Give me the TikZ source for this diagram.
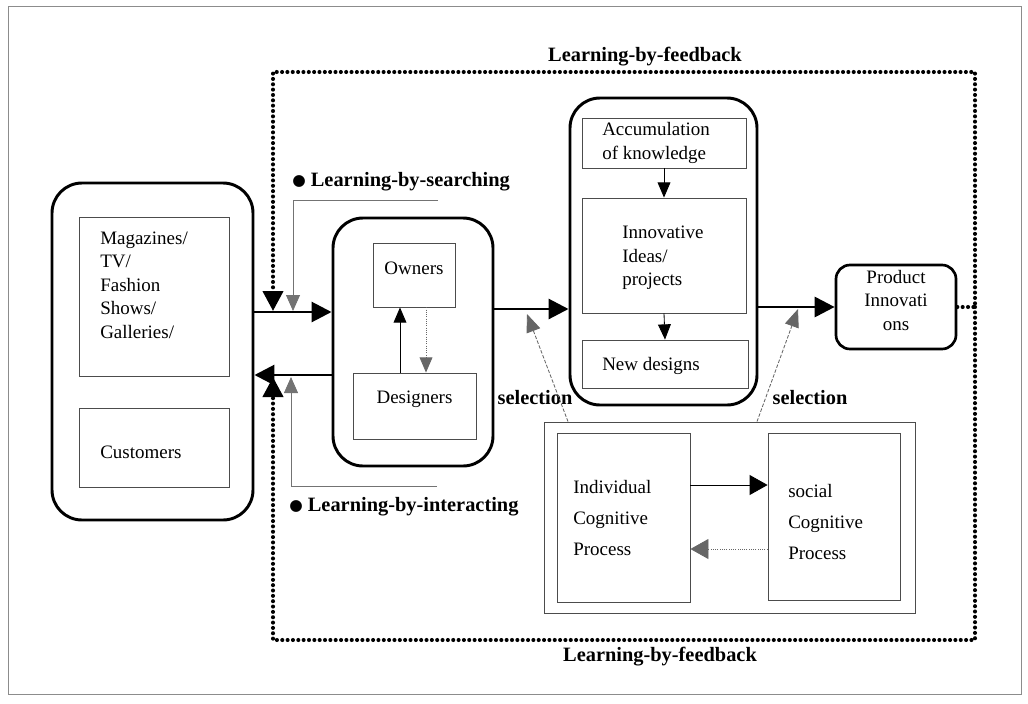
\documentclass[tikz,border=0pt]{standalone}
\usepackage{fontspec}
\setmainfont{Liberation Serif}
\newfontfamily\symfont{DejaVu Sans}
\usetikzlibrary{arrows.meta,fit}
\begin{document}
\begin{tikzpicture}[x=0.25mm,y=-0.25mm]
		\tikzstyle roundbox=[draw,line width=2.1pt,rounded corners=7.5mm,inner sep=0pt];
		\tikzstyle roundsmall=[draw,line width=1.9pt,rounded corners=3.5mm,inner sep=0pt];
		\tikzstyle thinbox=[draw=black!70,line width=0.6pt,inner sep=0pt];
		\tikzstyle txt=[font=\fontsize{13.5}{16.7}\selectfont,align=left,anchor=west,inner sep=0pt];
		\tikzstyle lbl=[font=\fontsize{14.5}{17}\selectfont\bfseries,inner sep=0pt];
		\tikzstyle bigarrow=[line width=2.1pt,-{Triangle[length=5mm,width=5mm]}];
		\tikzstyle thinarrow=[line width=0.6pt,-{Triangle[length=3.8mm,width=3.2mm]}];
		\tikzstyle dotarrow=[black!60,line width=0.6pt,densely dotted,-{Triangle[length=3.8mm,width=3.2mm]}];
		\tikzstyle greyarrow=[black!55,line width=0.6pt,-{Triangle[length=4mm,width=3.5mm]}];
		\tikzstyle selline=[black!60,line width=0.6pt,dash pattern=on 2.5pt off 1.2pt,-{Triangle[length=4.5mm,width=3.6mm]}];
		\tikzstyle feedback=[line width=2.9pt,line cap=round,dash pattern=on 0pt off 3.8pt,-{Triangle[length=5mm,width=5mm]}];
		\useasboundingbox (0,0) rectangle (1028,703);
		% FRAME
		\draw[black!45,line width=0.5pt] (8,6) rectangle (1021,694);

		% SOURCES
		\node[roundbox,fit={(52,183) (253,520)}] (sources) {};
		\node[thinbox,fit={(79,217) (229,376)}] (media) {};
		\node[txt] (mediatxt) at (100,285) {Magazines/\\TV/\\Fashion\\Shows/\\Galleries/};
		\node[thinbox,fit={(79,408) (229,487)}] (customers) {};
		\node[txt] (customerstxt) at (100,452) {Customers};

		% OWNERS AND DESIGNERS
		\node[roundbox,fit={(333,218) (493,466)}] (team) {};
		\node[thinbox,fit={(373,243) (455,307)},font=\fontsize{13.5}{16.7}\selectfont] (owners) {Owners};
		\node[thinbox,fit={(353,373) (476,439)},font=\fontsize{13.5}{16.7}\selectfont] (designers) {Designers};
		\draw[thinarrow] (designers.north -| 400,0) -- (owners.south -| 400,0);
		\draw[dotarrow] (owners.south -| 426,0) -- (designers.north -| 426,0);

		% INNOVATION
		\node[roundbox,fit={(570,98) (757,405)}] (innov) {};
		\node[thinbox,fit={(582,118) (746,168)}] (accum) {};
		\node[txt] (accumtxt) at (602,143) {Accumulation\\of knowledge};
		\node[thinbox,fit={(582,198) (746,313)}] (ideas) {};
		\node[txt] (ideastxt) at (622,258) {Innovative\\Ideas/\\projects};
		\node[thinbox,fit={(582,340) (748,388)}] (newdes) {};
		\node[txt] (newdestxt) at (602,366) {New designs};
		\draw[thinarrow] (accum.south) -- (ideas.north);
		\draw[thinarrow] (ideas.south) -- (newdes.north);

		% PRODUCT
		\node[roundsmall,fit={(836,265) (956,349)},font=\fontsize{13.5}{17}\selectfont,align=center] (product) {Product\\Innovati\\ons};

		% COGNITIVE PROCESS
		\node[thinbox,fit={(544,422) (915,613)}] (cogn) {};
		\node[thinbox,fit={(557,433) (690,602)}] (indiv) {};
		\node[txt,font=\fontsize{13.5}{22}\selectfont] (indivtxt) at (573,518) {Individual\\Cognitive\\Process};
		\node[thinbox,fit={(768,433) (900,600)}] (social) {};
		\node[txt,font=\fontsize{13.5}{22}\selectfont] (socialtxt) at (788,522) {social\\Cognitive\\Process};
		\draw[line width=0.6pt,-{Triangle[length=4.5mm,width=5mm]}] (indiv.east |- 0,485) -- (social.west |- 0,485);
		\draw[black!60,line width=0.6pt,densely dotted,-{Triangle[length=4.5mm,width=5mm]}] (social.west |- 0,549) -- (indiv.east |- 0,549);

		% MAIN ARROWS
		\draw[bigarrow] (sources.east |- 0,312) -- (team.west |- 0,312);
		\draw[bigarrow,{Triangle[length=5mm,width=5mm]}-] (sources.east |- 0,375) -- (team.west |- 0,375);
		\draw[bigarrow] (team.east |- 0,309) -- (innov.west |- 0,309);
		\draw[bigarrow] (innov.east |- product.west) -- (product.west);

		% FEEDBACK LOOP
		\coordinate (fbtip) at (273,311);
		\coordinate (fbtipb) at (273,377);
		\coordinate (fbright) at (975,307);
		\draw[feedback] (product.east) -- (fbright) |- (273,72) -- (fbtip);
		\draw[feedback] (fbright) |- (273,640) -- (fbtipb);
		\node[lbl] (fbtoplbl) at (645,57) {Learning-by-feedback};
		\node[lbl] (fbbotlbl) at (660,657) {Learning-by-feedback};

		% SEARCHING AND INTERACTING
		\node[lbl,anchor=west] (search) at (292,182) {\raisebox{1pt}{\symfont\fontsize{11}{11}\selectfont ●} Learning-by-searching};
		\node[lbl,anchor=west] (interact) at (289,507) {\raisebox{1pt}{\symfont\fontsize{11}{11}\selectfont ●} Learning-by-interacting};
		\coordinate (srchend) at (438,200);
		\coordinate (srchtip) at (293,311);
		\coordinate (intend) at (437,486);
		\coordinate (inttip) at (291,377);
		\draw[greyarrow] (srchend) -| (srchtip);
		\draw[greyarrow] (intend) -| (inttip);

		% SELECTION
		\node[lbl] (selA) at (535,398) {selection};
		\node[lbl] (selB) at (810,398) {selection};
		\coordinate (seltipA) at (527,314);
		\coordinate (seltipB) at (798,309);
		\draw[selline] (cogn.north -| 568,0) -- (seltipA);
		\draw[selline] (cogn.north -| 757,0) -- (seltipB);
\end{tikzpicture}
\end{document}
